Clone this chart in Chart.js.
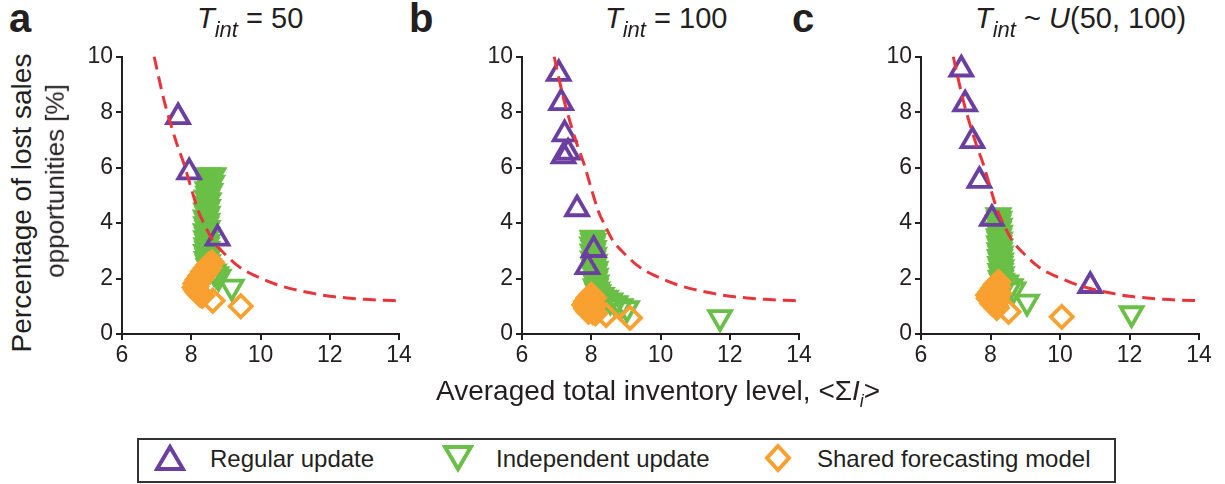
<!DOCTYPE html>
<html><head><meta charset="utf-8">
<script src="https://cdn.jsdelivr.net/npm/chart.js@4.4.0/dist/chart.umd.min.js"></script>
<style>
html,body{margin:0;padding:0;background:#fff;}
#wrap{position:relative;width:1225px;height:484px;overflow:hidden;font-family:"Liberation Sans",Arial,Helvetica,sans-serif;color:#231f20;background:#fff;}
canvas{position:absolute;}
.t{position:absolute;white-space:nowrap;line-height:1;}
.letter{font-weight:bold;font-size:40px;}
.ptitle{font-size:29px;}
.sub{font-size:22px;position:relative;top:9px;}
#legend{position:absolute;left:137px;top:438px;width:975px;height:41px;border:2px solid #333;}
.lg{position:absolute;font-size:24px;line-height:1;white-space:nowrap;}
svg{position:absolute;}
</style></head><body><div id="wrap">
<canvas id="ca" width="380" height="340" style="left:40px;top:40px"></canvas>
<canvas id="cb" width="380" height="340" style="left:440px;top:40px"></canvas>
<canvas id="cc" width="381" height="340" style="left:839px;top:40px"></canvas>

<div class="t letter" style="left:9px;top:-2px">a</div>
<div class="t letter" style="left:409px;top:-2px">b</div>
<div class="t letter" style="left:792px;top:-2px">c</div>

<div class="t ptitle" style="left:197px;top:4px"><i>T</i><span class="sub"><i>int</i></span> = 50</div>
<div class="t ptitle" style="left:605px;top:4px"><i>T</i><span class="sub"><i>int</i></span> = 100</div>
<div class="t ptitle" style="left:975px;top:4px"><i>T</i><span class="sub"><i>int</i></span> ~ <i>U</i>(50, 100)</div>

<div class="t" id="y1" style="font-size:28px;">Percentage of lost sales</div>
<div class="t" id="y2" style="font-size:26px;">opportunities [%]</div>

<div class="t" style="left:436px;top:377px;font-size:28px;">Averaged total inventory level, &lt;Σ<i>I</i><span style="font-size:18px;position:relative;top:7px;"><i>i</i></span>&gt;</div>

<div id="legend"></div>
<svg style="left:154px;top:443px" width="32" height="30"><polygon points="16,4 29,26 3,26" fill="none" stroke="#6b3fa0" stroke-width="4" stroke-linejoin="miter"/></svg>
<div class="lg" style="left:210px;top:447px">Regular update</div>
<svg style="left:442px;top:443px" width="32" height="30"><polygon points="3,4 29,4 16,26" fill="none" stroke="#6abf46" stroke-width="4" stroke-linejoin="miter"/></svg>
<div class="lg" style="left:496px;top:447px">Independent update</div>
<svg style="left:762px;top:443px" width="32" height="30"><polygon points="16,3 27,15 16,27 5,15" fill="none" stroke="#f8a030" stroke-width="4" stroke-linejoin="miter"/></svg>
<div class="lg" style="left:817px;top:447px">Shared forecasting model</div>
</div>
<script>
// ---- data ----
const xTicks = [6, 8, 10, 12, 14];
const yTicks = [0, 2, 4, 6, 8, 10];

const curveX = [6.93,7.0,7.2,7.4,7.6,7.8,8.0,8.2,8.4,8.6,8.8,9.0,9.3,9.6,10.0,10.5,11.0,11.5,12.0,12.5,13.0,13.5,14.0];
const curveY = [10.0,9.6,8.5,7.6,6.8,6.1,5.25,4.45,3.9,3.42,3.1,2.85,2.5,2.25,2.02,1.77,1.6,1.47,1.36,1.3,1.25,1.22,1.2];

const regularA = [[7.62,7.83],[7.94,5.84],[8.76,3.45]];
const indepDenseA = [[8.48,5.72],[8.64,5.72],[8.56,5.62],[8.5,5.5],[8.6,5.45],[8.52,5.35],[8.47,5.22],[8.55,5.15],[8.49,5.05],[8.45,4.92],[8.5,4.82],[8.44,4.7],[8.48,4.58],[8.43,4.45],[8.47,4.33],[8.42,4.2],[8.46,4.08],[8.43,3.95],[8.47,3.82],[8.42,3.7],[8.46,3.57],[8.43,3.45],[8.47,3.32],[8.44,3.2],[8.46,3.07],[8.43,2.95],[8.47,2.82],[8.45,2.7],[8.48,2.58],[8.5,2.45],[8.55,2.35]];
const indepA = [[8.65,2.25],[8.72,2.15],[8.79,2.06],[9.17,1.70]];
const sharedDenseA = [[8.6,2.58],[8.5,2.5],[8.52,2.38],[8.42,2.38],[8.44,2.25],[8.34,2.25],[8.36,2.12],[8.26,2.1],[8.28,1.98],[8.18,1.95],[8.2,1.85],[8.12,1.82],[8.15,1.72],[8.1,1.68],[8.14,1.6],[8.18,1.52],[8.22,1.46],[8.26,1.41],[8.32,1.38]];
const sharedA = [[8.62,1.2],[9.43,1.0]];

const regularB = [[7.06,9.39],[7.13,8.34],[7.23,7.21],[7.2,6.42],[7.33,6.55],[7.59,4.51],[8.07,3.04],[7.89,2.42]];
const indepDenseB = [[8.04,3.47],[8.06,3.35],[8.03,3.22],[8.07,3.1],[8.04,2.97],[8.08,2.85],[8.05,2.72],[8.1,2.6],[8.07,2.47],[8.12,2.35],[8.09,2.22],[8.13,2.1],[8.1,1.97],[8.15,1.85],[8.13,1.72],[8.17,1.6],[8.2,1.5]];
const indepB = [[8.3,1.4],[8.42,1.3],[8.55,1.2],[8.7,1.1],[8.85,1.0],[9.03,0.92],[11.72,0.6]];
const sharedDenseB = [[8.0,1.42],[8.08,1.3],[7.92,1.3],[7.85,1.18],[8.0,1.18],[7.8,1.05],[7.95,1.05],[8.08,1.05],[7.85,0.92],[8.0,0.9],[7.92,0.8],[8.05,0.78],[8.12,0.75]];
const sharedB = [[8.43,0.68],[9.12,0.58]];

const regularC = [[7.16,9.55],[7.27,8.29],[7.48,6.97],[7.68,5.53],[8.04,4.16],[10.87,1.74]];
const indepDenseC = [[8.23,4.28],[8.25,4.15],[8.22,4.02],[8.26,3.9],[8.23,3.77],[8.27,3.65],[8.24,3.52],[8.27,3.4],[8.25,3.27],[8.28,3.15],[8.26,3.02],[8.29,2.9],[8.27,2.77],[8.3,2.65],[8.28,2.52],[8.31,2.4],[8.29,2.27],[8.32,2.15],[8.3,2.02],[8.33,1.92]];
const indepC = [[8.45,1.85],[8.58,1.72],[8.66,1.6],[9.05,1.16],[12.06,0.74]];
const sharedDenseC = [[8.23,1.88],[8.15,1.78],[8.22,1.7],[8.08,1.66],[8.18,1.58],[8.0,1.52],[8.12,1.48],[8.25,1.46],[7.93,1.4],[8.05,1.36],[8.18,1.32],[7.95,1.28],[8.08,1.22],[8.2,1.18],[8.05,1.1],[8.15,1.02],[8.18,0.94]];
const sharedC = [[8.52,0.8],[10.05,0.62]];

// ---- styles ----
const PURPLE = '#6b3fa0', GREEN = '#6abf46', ORANGE = '#f8a030', RED = '#e8353b', INK = '#231f20';
const FONT = '"Liberation Sans", Arial, sans-serif';

function place(id, cx, cy) {
  const el = document.getElementById(id);
  const w = el.offsetWidth, h = el.offsetHeight;
  el.style.left = (cx - w / 2) + 'px';
  el.style.top = (cy - h / 2) + 'px';
  el.style.transform = 'rotate(-90deg)';
}
place('y1', 22, 203);
place('y2', 55, 181);

const pts = a => a.map(p => ({x: p[0], y: p[1]}));

function marker(data, style, color, filled, rot, r, order) {
  return {
    data: pts(data), showLine: false, clip: false, order: order,
    pointStyle: style, pointRadius: r, pointHoverRadius: r, pointRotation: rot,
    pointBorderWidth: 3.8, borderColor: color, pointBorderColor: color,
    backgroundColor: filled ? color : 'rgba(0,0,0,0)',
    pointBackgroundColor: filled ? color : 'rgba(0,0,0,0)'
  };
}

function makeChart(id, reg, indDense, ind, shDense, sh) {
  const axisCommon = {
    type: 'linear',
    grid: {display: true, drawOnChartArea: false, drawTicks: true, tickLength: 6, color: INK, lineWidth: 2},
    border: {display: true, color: INK, width: 2}
  };
  new Chart(document.getElementById(id), {
    type: 'scatter',
    data: {datasets: [
      {data: curveX.map((x, i) => ({x: x, y: curveY[i]})), showLine: true, borderColor: RED, borderWidth: 3,
       borderDash: [13, 7], pointRadius: 0, cubicInterpolationMode: 'monotone', order: 0, clip: false},
      marker(reg, 'triangle', PURPLE, false, 0, 12.5, 1),
      marker(shDense, 'rectRot', ORANGE, true, 0, 11, 2),
      marker(sh, 'rectRot', ORANGE, false, 0, 11, 2),
      marker(indDense, 'triangle', GREEN, true, 180, 12.5, 3),
      marker(ind, 'triangle', GREEN, false, 180, 12.5, 3)
    ]},
    options: {
      responsive: false, animation: false, events: [],
      layout: {padding: {left: 0, top: 16, right: 21, bottom: 6}},
      plugins: {legend: {display: false}, tooltip: {enabled: false}},
      scales: {
        x: Object.assign({}, axisCommon, {
          min: xTicks[0], max: xTicks[xTicks.length - 1],
          afterBuildTicks: s => { s.ticks = xTicks.map(v => ({value: v})); },
          ticks: {font: {family: FONT, size: 23}, color: INK, padding: 2, maxRotation: 0},
          afterFit: s => { s.height = 40; }
        }),
        y: Object.assign({}, axisCommon, {
          min: yTicks[0], max: yTicks[yTicks.length - 1],
          afterBuildTicks: s => { s.ticks = yTicks.map(v => ({value: v})); },
          ticks: {font: {family: FONT, size: 23}, color: INK, padding: 3},
          afterFit: s => { s.width = 82; }
        })
      }
    }
  });
}

makeChart('ca', regularA, indepDenseA, indepA, sharedDenseA, sharedA);
makeChart('cb', regularB, indepDenseB, indepB, sharedDenseB, sharedB);
makeChart('cc', regularC, indepDenseC, indepC, sharedDenseC, sharedC);
</script>
</body></html>
